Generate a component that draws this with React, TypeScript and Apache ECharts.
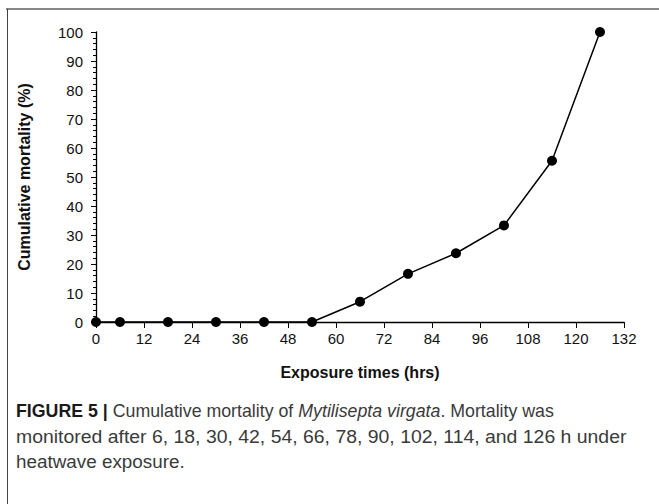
import React, { useEffect, useRef } from "react";
import * as echarts from "echarts";

const hours = [0, 6, 18, 30, 42, 54, 66, 78, 90, 102, 114, 126];
const mortality = [0, 0, 0, 0, 0, 0, 7, 16.6, 23.7, 33.3, 55.6, 100];
const xTitle = "Exposure times (hrs)";
const yTitle = "Cumulative mortality (%)";
const captionLines = [
  [
    { t: "FIGURE 5 | ", s: "b" },
    { t: "Cumulative mortality of ", s: "r" },
    { t: "Mytilisepta virgata", s: "i" },
    { t: ". Mortality was", s: "r" },
  ],
  [{ t: "monitored after 6, 18, 30, 42, 54, 66, 78, 90, 102, 114, and 126 h under", s: "r" }],
  [{ t: "heatwave exposure.", s: "r" }],
];
const captionScale = [0.96, 1.05, 1.02];

export default function App() {
  const ref = useRef<HTMLDivElement>(null);
  useEffect(() => {
    if (!ref.current) return;
    const chart = echarts.init(ref.current, null, { renderer: "svg" });
    const font = "'Liberation Sans', Arial, sans-serif";
    const fs = 18.5;
    const capStyles = {
      b: { fontWeight: "bold", fontSize: fs, fontFamily: font, fill: "#1a1a1a" },
      r: { fontWeight: "normal", fontSize: fs, fontFamily: font, fill: "#3a3a3a" },
      i: { fontStyle: "italic", fontSize: fs, fontFamily: font, fill: "#3a3a3a" },
    };
    const captionGraphics = captionLines.map((line, i) => ({
      type: "text",
      x: 16,
      y: 411 + i * 25.5,
      scaleX: captionScale[i],
      style: {
        x: 0,
        y: 0,
        text: line.map((seg) => `{${seg.s}|${seg.t}}`).join(""),
        rich: capStyles,
        font: `${fs}px ${font}`,
        verticalAlign: "middle",
        align: "left",
      },
    }));
    chart.setOption({
      animation: false,
      backgroundColor: "#fff",
      grid: { left: 96, right: 35, top: 32, bottom: 182 },
      xAxis: {
        type: "value",
        min: 0,
        max: 132,
        interval: 12,
        name: xTitle,
        nameLocation: "middle",
        nameGap: 42,
        nameTextStyle: { fontSize: 16, fontWeight: "bold", color: "#111", fontFamily: font },
        axisLine: { show: true, onZero: false, lineStyle: { color: "#000", width: 1.3 } },
        axisTick: { show: true, inside: false, length: 6, lineStyle: { color: "#000" } },
        axisLabel: { fontSize: 15, color: "#111", margin: 9, fontFamily: font },
        splitLine: { show: false },
      },
      yAxis: {
        type: "value",
        min: 0,
        max: 100,
        interval: 10,
        name: yTitle,
        nameLocation: "middle",
        nameGap: 64,
        nameTextStyle: { fontSize: 16, fontWeight: "bold", color: "#111", fontFamily: font },
        axisLine: { show: true, lineStyle: { color: "#000", width: 1.3 } },
        axisTick: { show: true, inside: false, length: 5, lineStyle: { color: "#000" } },
        minorTick: { show: true, splitNumber: 5, length: 3, lineStyle: { color: "#000" } },
        axisLabel: { fontSize: 15, color: "#111", margin: 13, fontFamily: font },
        splitLine: { show: false },
      },
      series: [
        {
          type: "line",
          data: hours.map((h, i) => [h, mortality[i]]),
          symbol: "circle",
          symbolSize: 10,
          itemStyle: { color: "#000" },
          lineStyle: { color: "#000", width: 1.5 },
        },
      ],
      graphic: [
        {
          type: "line",
          shape: { x1: 6, y1: 9, x2: 659, y2: 9 },
          style: { stroke: "#888", lineWidth: 2 },
        },
        {
          type: "line",
          shape: { x1: 7.5, y1: 9, x2: 7.5, y2: 504 },
          style: { stroke: "#444", lineWidth: 1 },
        },
        ...captionGraphics,
      ],
    });
    return () => chart.dispose();
  }, []);
  return (
    <div
      ref={ref}
      style={{ position: "fixed", left: 0, top: 0, width: 659, height: 504 }}
    />
  );
}
